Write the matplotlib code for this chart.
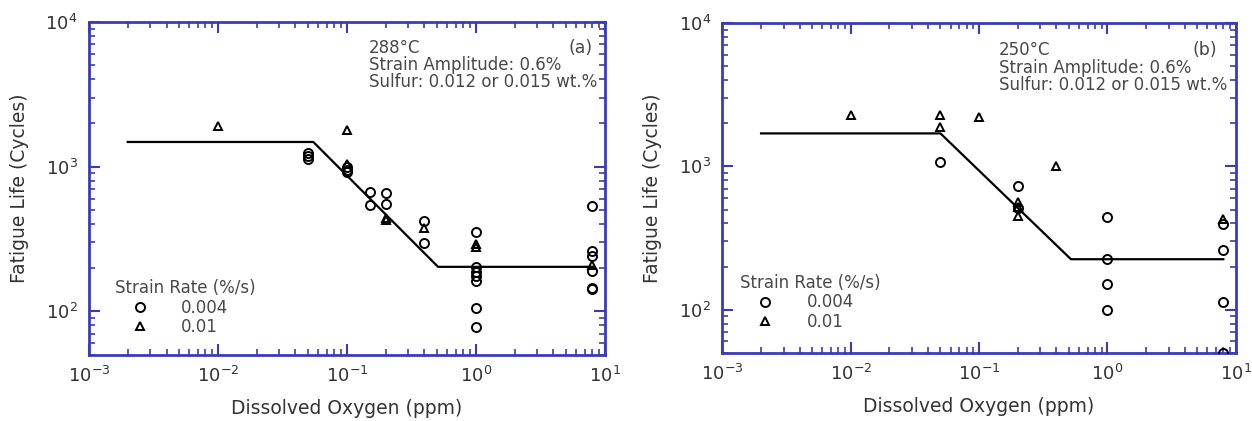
import matplotlib
matplotlib.use("Agg")
import matplotlib.pyplot as plt
from matplotlib.ticker import LogLocator, NullFormatter

plt.rcParams['font.family'] = ['DejaVu Sans']
plt.rcParams['mathtext.default'] = 'regular'

# panel (a): 288 C
a_circ_x = [0.05, 0.05, 0.05, 0.1, 0.1, 0.1, 0.15, 0.15, 0.2, 0.2, 0.4, 0.4,
            1, 1, 1, 1, 1, 1, 1, 8, 8, 8, 8, 8, 8]
a_circ_y = [1250, 1180, 1120, 1000, 950, 920, 667, 540, 660, 550, 424, 297,
            352, 201, 187, 176, 162, 106, 78, 533, 262, 242, 191, 146, 142]
a_tri_x = [0.01, 0.1, 0.1, 0.2, 0.2, 0.4, 1, 1, 8]
a_tri_y = [1920, 1800, 1050, 440, 430, 378, 290, 280, 210]
a_fit_x = [0.002, 0.055, 0.51, 8]
a_fit_y = [1480, 1480, 203, 203]

# panel (b): 250 C
b_circ_x = [0.05, 0.2, 0.2, 1, 1, 1, 1, 8, 8, 8, 8]
b_circ_y = [1070, 730, 510, 440, 225, 152, 100, 395, 260, 113, 50]
b_tri_x = [0.01, 0.05, 0.05, 0.1, 0.2, 0.2, 0.2, 0.4, 8]
b_tri_y = [2300, 2300, 1880, 2200, 560, 520, 450, 1000, 430]
b_fit_x = [0.002, 0.05, 0.52, 8]
b_fit_y = [1700, 1700, 225, 225]

rate_labels = ['0.004', '0.01']
temps = ['288°C', '250°C']
tags = ['(a)', '(b)']
note_lines = ['Strain Amplitude: 0.6%', 'Sulfur: 0.012 or 0.015 wt.%']

BLUE = '#3b3bb8'
TXT = '#333333'
GRAY = '#484848'


def draw_panel(ax, cx, cy, tx, ty, fx, fy, temp, tag, leg_xy, tag_x, note_x, note_y):
    ax.plot(fx, fy, color='black', lw=1.6, zorder=2)
    ax.plot(cx, cy, 'o', ms=6.5, mfc='none', mec='black', mew=1.4,
            label=rate_labels[0], zorder=3)
    ax.plot(tx, ty, '^', ms=6, mfc='none', mec='black', mew=1.4,
            label=rate_labels[1], zorder=3)
    ax.set_xscale('log')
    ax.set_yscale('log')
    ax.set_xlim(1e-3, 1e1)
    ax.set_ylim(50, 1e4)
    ax.set_xticks([1e-3, 1e-2, 1e-1, 1e0, 1e1])
    ax.set_xticklabels(['$10^{-3}$', '$10^{-2}$', '$10^{-1}$', '$10^{0}$', '$10^{1}$'])
    ax.set_yticks([1e2, 1e3, 1e4])
    ax.set_yticklabels(['$10^{2}$', '$10^{3}$', '$10^{4}$'])
    ax.xaxis.set_minor_locator(LogLocator(base=10, subs=range(2, 10), numticks=20))
    ax.yaxis.set_minor_locator(LogLocator(base=10, subs=range(2, 10), numticks=20))
    ax.xaxis.set_minor_formatter(NullFormatter())
    ax.yaxis.set_minor_formatter(NullFormatter())
    ax.tick_params(which='both', direction='in', top=True, right=True,
                   color=BLUE, labelsize=13, labelcolor=TXT)
    ax.tick_params(which='major', length=8, width=1.5, pad=8)
    ax.tick_params(which='minor', length=4, width=1.2)
    for s in ax.spines.values():
        s.set_color(BLUE)
        s.set_linewidth(2)
    ax.set_xlabel('Dissolved Oxygen (ppm)', fontsize=13.5, labelpad=9, color=TXT)
    ax.set_ylabel('Fatigue Life (Cycles)', fontsize=13.5, labelpad=12, color=TXT)
    for i, line in enumerate([temp] + note_lines):
        ax.text(note_x, note_y[i], line, transform=ax.transAxes, ha='left',
                va='center', fontsize=12, color=GRAY)
    ax.text(tag_x, note_y[0], tag, transform=ax.transAxes, ha='right',
            va='center', fontsize=12.5, color=GRAY)
    leg = ax.legend(title='Strain Rate (%/s)', loc='upper left',
                    bbox_to_anchor=leg_xy, frameon=False, fontsize=12,
                    title_fontsize=12, handlelength=3.0, handletextpad=1.0,
                    labelspacing=0.1, alignment='left', borderpad=0,
                    borderaxespad=0)
    leg.get_title().set_color(GRAY)
    for t in leg.get_texts():
        t.set_color(GRAY)


fig = plt.figure(figsize=(12.52, 4.21), dpi=100)
ax1 = fig.add_axes([0.071, 0.157, 0.412, 0.791])
ax2 = fig.add_axes([0.577, 0.162, 0.410, 0.783])

draw_panel(ax1, a_circ_x, a_circ_y, a_tri_x, a_tri_y, a_fit_x, a_fit_y,
           temps[0], tags[0], (0.05, 0.228), 0.977, 0.543, [0.922, 0.871, 0.820])
draw_panel(ax2, b_circ_x, b_circ_y, b_tri_x, b_tri_y, b_fit_x, b_fit_y,
           temps[1], tags[1], (0.035, 0.24), 0.963, 0.538, [0.918, 0.865, 0.812])

fig.savefig('out.png', dpi=100)
